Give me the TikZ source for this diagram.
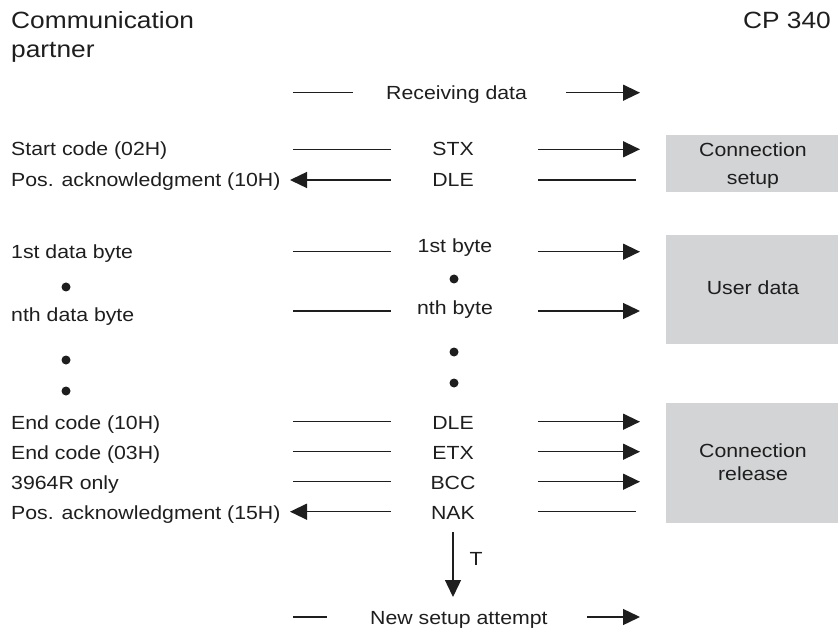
\documentclass[tikz,border=0pt]{standalone}
\usepackage{fontspec}
\setmainfont{Liberation Sans}[FakeStretch=1.12]
\usetikzlibrary{arrows.meta}
\definecolor{boxgray}{RGB}{211,212,214}
\definecolor{inkc}{RGB}{30,30,30}
\tikzset{
  txt/.style={font=\fontsize{19}{22}\selectfont, inner sep=0pt, anchor=base west, text=inkc},
  ctxt/.style={font=\fontsize{19}{22}\selectfont, inner sep=0pt, anchor=base, text=inkc},
  ttl/.style={font=\fontsize{23.5}{26}\selectfont, inner sep=0pt, text=inkc},
  ln/.style={line width=1.4pt, draw=inkc},
  arr/.style={ln, -{Triangle[length=17pt,width=16pt]}},
  graybox/.style={fill=boxgray, draw=none},
  dotc/.style={circle, fill=inkc, inner sep=0pt, minimum size=9pt},
}
\begin{document}
\begin{tikzpicture}[x=1pt,y=-1pt]
\useasboundingbox (0,0) rectangle (838,628);
% boxes
\fill[graybox] (666,135) rectangle (838,192);
\fill[graybox] (666,235) rectangle (838,344);
\fill[graybox] (666,403) rectangle (838,523);
\node[ctxt] (bx1a) at (753,157) {Connection};
\node[ctxt] (bx1b) at (753,185) {setup};
\node[ctxt] (bx2) at (753,295) {User data};
\node[ctxt] (bx3a) at (753,457) {Connection};
\node[ctxt] (bx3b) at (753,480) {release};
% titles
\node[ttl, anchor=base west] (t1) at (11,29) {Communication};
\node[ttl, anchor=base west] (t2) at (11,58) {partner};
\node[ttl, anchor=base east] (t3) at (831,29) {CP 340};
% receiving data
\node[txt] (recv) at (386,99.5) {Receiving data};
\coordinate (r1) at (293,92.7); \coordinate (r2) at (353,92.7);
\coordinate (r3) at (566,92.7); \coordinate (r4) at (640,92.7);
\draw[ln] (r1) -- (r2);
\draw[arr] (r3) -- (r4);
% left labels
\node[txt] (l1) at (11,156) {Start code (02H)};
\node[txt] (l2) at (11,187) {Pos. acknowledgment (10H)};
\node[txt] (l3) at (11,259) {1st data byte};
\node[txt] (l4) at (11,322) {nth data byte};
\node[txt] (l5) at (11,429) {End code (10H)};
\node[txt] (l6) at (11,459) {End code (03H)};
\node[txt] (l7) at (11,489) {3964R only};
\node[txt] (l8) at (11,519) {Pos. acknowledgment (15H)};
% middle labels
\node[ctxt] (m1) at (453,156) {STX};
\node[ctxt] (m2) at (453,187) {DLE};
\node[ctxt] (m3) at (455,253) {1st byte};
\node[ctxt] (m4) at (455,315) {nth byte};
\node[ctxt] (m5) at (453,429) {DLE};
\node[ctxt] (m6) at (453,459) {ETX};
\node[ctxt] (m7) at (453,489) {BCC};
\node[ctxt] (m8) at (453,519) {NAK};
% dots
\node[dotc] (d1) at (66,287) {};
\node[dotc] (d2) at (66,360) {};
\node[dotc] (d3) at (66,391) {};
\node[dotc] (d4) at (454,279) {};
\node[dotc] (d5) at (454,352) {};
\node[dotc] (d6) at (454,383) {};
% row connector end points
\foreach \n/\y in {1/149.3, 2/180, 3/251.7, 4/311, 5/421.7, 6/451.7, 7/481.7, 8/511.7}{
  \coordinate (a\n) at (293,\y); \coordinate (b\n) at (391,\y);
  \coordinate (c\n) at (538,\y); \coordinate (e\n) at (640,\y); \coordinate (f\n) at (636,\y);
  \coordinate (g\n) at (290,\y);
}
\draw[ln] (a1) -- (b1); \draw[arr] (c1) -- (e1);
\draw[arr] (b2) -- (g2);
\draw[ln] (c2) -- (f2);
\draw[ln] (a3) -- (b3); \draw[arr] (c3) -- (e3);
\draw[ln] (a4) -- (b4); \draw[arr] (c4) -- (e4);
\draw[ln] (a5) -- (b5); \draw[arr] (c5) -- (e5);
\draw[ln] (a6) -- (b6); \draw[arr] (c6) -- (e6);
\draw[ln] (a7) -- (b7); \draw[arr] (c7) -- (e7);
\draw[arr] (b8) -- (g8);
\draw[ln] (c8) -- (f8);
% timeout arrow
\coordinate (n1) at (453,532); \coordinate (n2) at (453,597);
\draw[arr] (n1) -- (n2);
\node[ctxt] (tt) at (476,565) {T};
% new setup attempt
\node[txt] (news) at (370,624) {New setup attempt};
\coordinate (s1) at (293,617); \coordinate (s2) at (327,617);
\coordinate (s3) at (587,617); \coordinate (s4) at (640,617);
\draw[ln] (s1) -- (s2);
\draw[arr] (s3) -- (s4);
\end{tikzpicture}
\end{document}
